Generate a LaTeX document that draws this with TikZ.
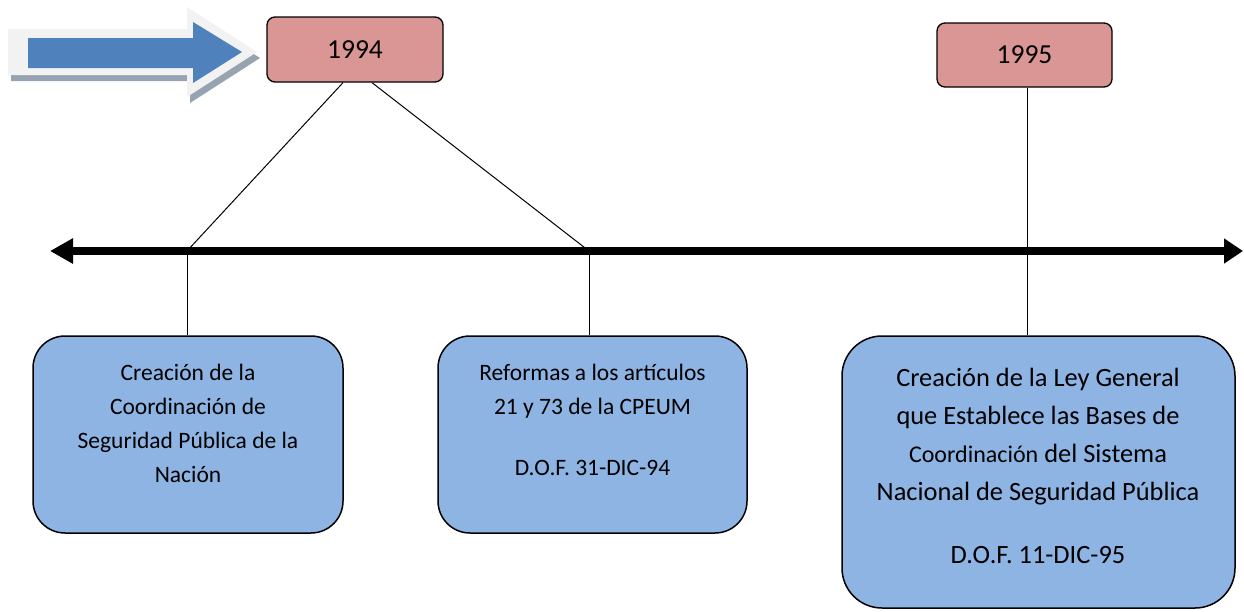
\documentclass[tikz,border=0pt]{standalone}
\usepackage{fontspec}
\setmainfont{Carlito}
\usetikzlibrary{arrows.meta}
\definecolor{yearfill}{RGB}{217,150,148}
\definecolor{boxfill}{RGB}{142,180,227}
\definecolor{arrowblue}{RGB}{79,129,189}
\definecolor{arrowgray}{RGB}{242,242,242}
\definecolor{shadowgray}{RGB}{151,163,176}
\begin{document}
\begin{tikzpicture}[x=1pt,y=-1pt,
  yearbox/.style={draw=black, line width=1.3pt, fill=yearfill, rounded corners=8pt,
    inner sep=0pt, font=\fontsize{27.5}{33}\selectfont},
  eventbox/.style={draw=black, line width=1.5pt, fill=boxfill, rounded corners=32pt, inner sep=0pt},
  eventtext/.style={align=center, inner sep=0pt, font=\fontsize{23.5}{34}\selectfont},
  bigtext/.style={align=center, inner sep=0pt, font=\fontsize{26.4}{38}\selectfont},
  link/.style={line width=1pt},
  timeline/.style={line width=8pt, {Triangle[length=23pt,width=24pt]}-{Triangle[length=19pt,width=24pt]}}]
\useasboundingbox (0,0) rectangle (1244,611);

% block arrow
\fill[shadowgray] (11,35) -- (190,35) -- (190,13) -- (260,58) -- (190,103) -- (190,81) -- (11,81) -- cycle;
\fill[arrowgray] (8,29) -- (187,29) -- (187,7) -- (257,52) -- (187,97) -- (187,75) -- (8,75) -- cycle;
\fill[arrowblue] (28,38) -- (193,38) -- (193,22) -- (242,52) -- (193,83) -- (193,68) -- (28,68) -- cycle;

% year boxes
\node[yearbox, minimum width=176pt, minimum height=65pt] (y94) at (355,49.5) {1994};
\node[yearbox, minimum width=175pt, minimum height=64pt] (y95) at (1024.5,55) {1995};

% event boxes
\node[eventbox, minimum width=310pt, minimum height=197pt] (b1) at (188,434.5) {};
\node[eventbox, minimum width=309pt, minimum height=197pt] (b2) at (592.5,434.5) {};
\node[eventbox, rounded corners=40pt, minimum width=393pt, minimum height=272pt] (b3) at (1038.5,472) {};

\node[eventtext] (t1) at (188,423.5) {Creación de la\\Coordinación de\\Seguridad Pública de la\\Nación};
\node[eventtext] (t2) at (592.5,420) {Reformas a los artículos\\21 y 73 de la CPEUM\\[27pt]D.O.F. 31-DIC-94};
\node[bigtext] (t3) at (1038,466) {Creación de la Ley General\\que Establece las Bases de\\{\fontsize{24}{38}\selectfont Coordinación} del Sistema\\Nacional de Seguridad Pública\\[25pt]D.O.F. 11-DIC-95};

% timeline points
\coordinate (tl) at (50,251);
\coordinate (tr) at (1243,251);
\coordinate (p1) at (187,251);
\coordinate (p2) at (589,251);
\coordinate (p3) at (1027,251);

% connectors
\draw[link] ([xshift=-12pt]y94.south) -- (p1);
\draw[link] ([xshift=17pt]y94.south) -- (p2);
\draw[link] (p1) -- (p1 |- b1.north);
\draw[link] (p2) -- (p2 |- b2.north);
\draw[link] (p3 |- y95.south) -- (p3 |- b3.north);

\draw[timeline] (tl) -- (tr);
\end{tikzpicture}
\end{document}
